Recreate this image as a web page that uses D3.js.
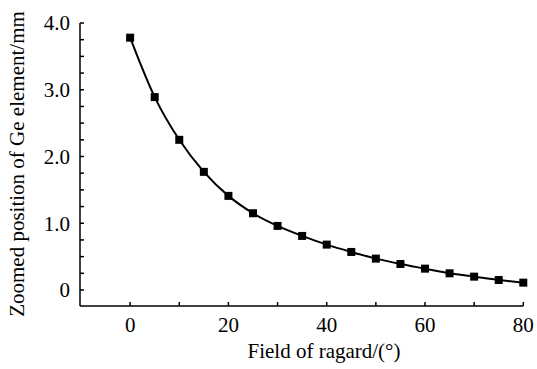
<!DOCTYPE html>
<html><head><meta charset="utf-8">
<script src="https://cdn.jsdelivr.net/npm/d3@7"></script>
<style>body{margin:0;background:#fff}svg{display:block}</style>
</head><body>
<svg id="c" width="537" height="369"></svg>
<script>
const angles = [0,5,10,15,20,25,30,35,40,45,50,55,60,65,70,75,80];
const positions = [3.78,2.89,2.25,1.77,1.41,1.15,0.96,0.81,0.68,0.57,0.47,0.39,0.32,0.25,0.20,0.15,0.11];
const xTicks = [0,20,40,60,80];
const yTicks = [0,1,2,3,4];
const yTickLabels = ["0","1.0","2.0","3.0","4.0"];

const svg = d3.select("#c");
const x = d3.scaleLinear().domain([-10.2,80]).range([80,523.3]);
const y = d3.scaleLinear().domain([0,4]).range([290,23]);
const y0 = 306;
const font = "'Liberation Serif','Times New Roman',serif";

svg.append("line").attr("x1",80).attr("x2",80).attr("y1",23).attr("y2",y0).attr("stroke","#000").attr("stroke-width",1.5);
svg.append("line").attr("x1",80).attr("x2",x(80)).attr("y1",y0).attr("y2",y0).attr("stroke","#000").attr("stroke-width",1.5);

d3.range(0,4.001,0.25).forEach(v=>{
  svg.append("line").attr("x1",80).attr("x2",84).attr("y1",y(v)).attr("y2",y(v)).attr("stroke","#000").attr("stroke-width",1.5);
});
yTicks.forEach((v,i)=>{
  svg.append("text").attr("x",70).attr("y",y(v)).attr("dy","0.35em").attr("text-anchor","end")
    .attr("font-family",font).attr("font-size",21).text(yTickLabels[i]);
});
d3.range(0,80.001,10).forEach(v=>{
  svg.append("line").attr("x1",x(v)).attr("x2",x(v)).attr("y1",y0).attr("y2",y0-4).attr("stroke","#000").attr("stroke-width",1.5);
});
xTicks.forEach(v=>{
  svg.append("text").attr("x",x(v)).attr("y",332).attr("text-anchor","middle")
    .attr("font-family",font).attr("font-size",21).text(v);
});

svg.append("text").attr("x",324).attr("y",358).attr("text-anchor","middle")
  .attr("font-family",font).attr("font-size",21).text("Field of ragard/(°)");
svg.append("text").attr("transform","translate(24,164) rotate(-90)").attr("text-anchor","middle")
  .attr("font-family",font).attr("font-size",21).text("Zoomed position of Ge element/mm");

const data = angles.map((a,i)=>[a,positions[i]]);
svg.append("path").datum(data)
  .attr("d",d3.line().x(d=>x(d[0])).y(d=>y(d[1])).curve(d3.curveMonotoneX))
  .attr("fill","none").attr("stroke","#000").attr("stroke-width",2);
svg.selectAll("rect.m").data(data).enter().append("rect")
  .attr("x",d=>x(d[0])-4).attr("y",d=>y(d[1])-4).attr("width",8).attr("height",8).attr("fill","#000");
</script>
</body></html>
